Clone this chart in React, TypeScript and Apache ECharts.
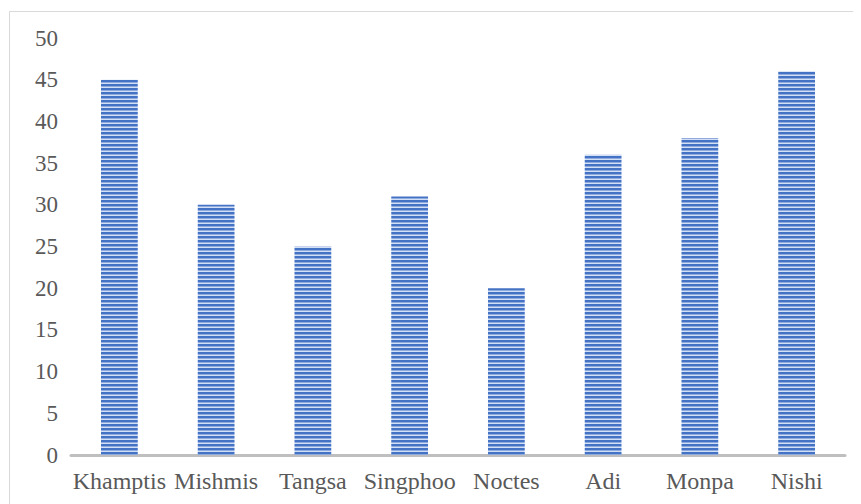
import React, { useEffect, useRef } from "react";
import * as echarts from "echarts";

const categories = ["Khamptis", "Mishmis", "Tangsa", "Singphoo", "Noctes", "Adi", "Monpa", "Nishi"];
const values = [45, 30, 25, 31, 20, 36, 38, 46];
const yTicks = { min: 0, max: 50, interval: 5 };

function makeStripe(): HTMLCanvasElement {
  const c = document.createElement("canvas");
  c.width = 4;
  c.height = 4;
  const ctx = c.getContext("2d")!;
  ctx.fillStyle = "#4472C4";
  ctx.fillRect(0, 0, 4, 2);
  ctx.fillStyle = "#8FABDE";
  ctx.fillRect(0, 2, 4, 1);
  ctx.fillStyle = "#D3DFF4";
  ctx.fillRect(0, 3, 4, 1);
  return c;
}

export default function App() {
  const ref = useRef<HTMLDivElement>(null);
  useEffect(() => {
    if (!ref.current) return;
    const chart = echarts.init(ref.current, undefined, { renderer: "svg" });
    const font = "'Liberation Serif', 'Times New Roman', serif";
    chart.setOption({
      animation: false,
      backgroundColor: "#fff",
      graphic: [
        {
          type: "rect",
          shape: { x: 1.5, y: 3.5, width: 900, height: 600 },
          style: { fill: "none", stroke: "#D9D9D9", lineWidth: 1 },
          silent: true,
        },
      ],
      grid: { left: 63, right: 16, top: 30, bottom: 49 },
      xAxis: {
        type: "category",
        data: categories,
        axisLine: { show: true, lineStyle: { color: "#BFBFBF", width: 3 } },
        axisTick: { show: false },
        axisLabel: { color: "#595959", fontFamily: font, fontSize: 24, margin: 14, interval: 0 },
      },
      yAxis: {
        type: "value",
        min: yTicks.min,
        max: yTicks.max,
        interval: yTicks.interval,
        axisLine: { show: false },
        axisTick: { show: false },
        splitLine: { show: false },
        axisLabel: { color: "#595959", fontFamily: font, fontSize: 23, margin: 13 },
      },
      series: [
        {
          type: "bar",
          data: values,
          barWidth: "38%",
          itemStyle: {
            color: { image: makeStripe(), repeat: "repeat" },
          },
        },
      ],
    });
    return () => chart.dispose();
  }, []);
  return <div ref={ref} style={{ width: 853, height: 496 }} />;
}
